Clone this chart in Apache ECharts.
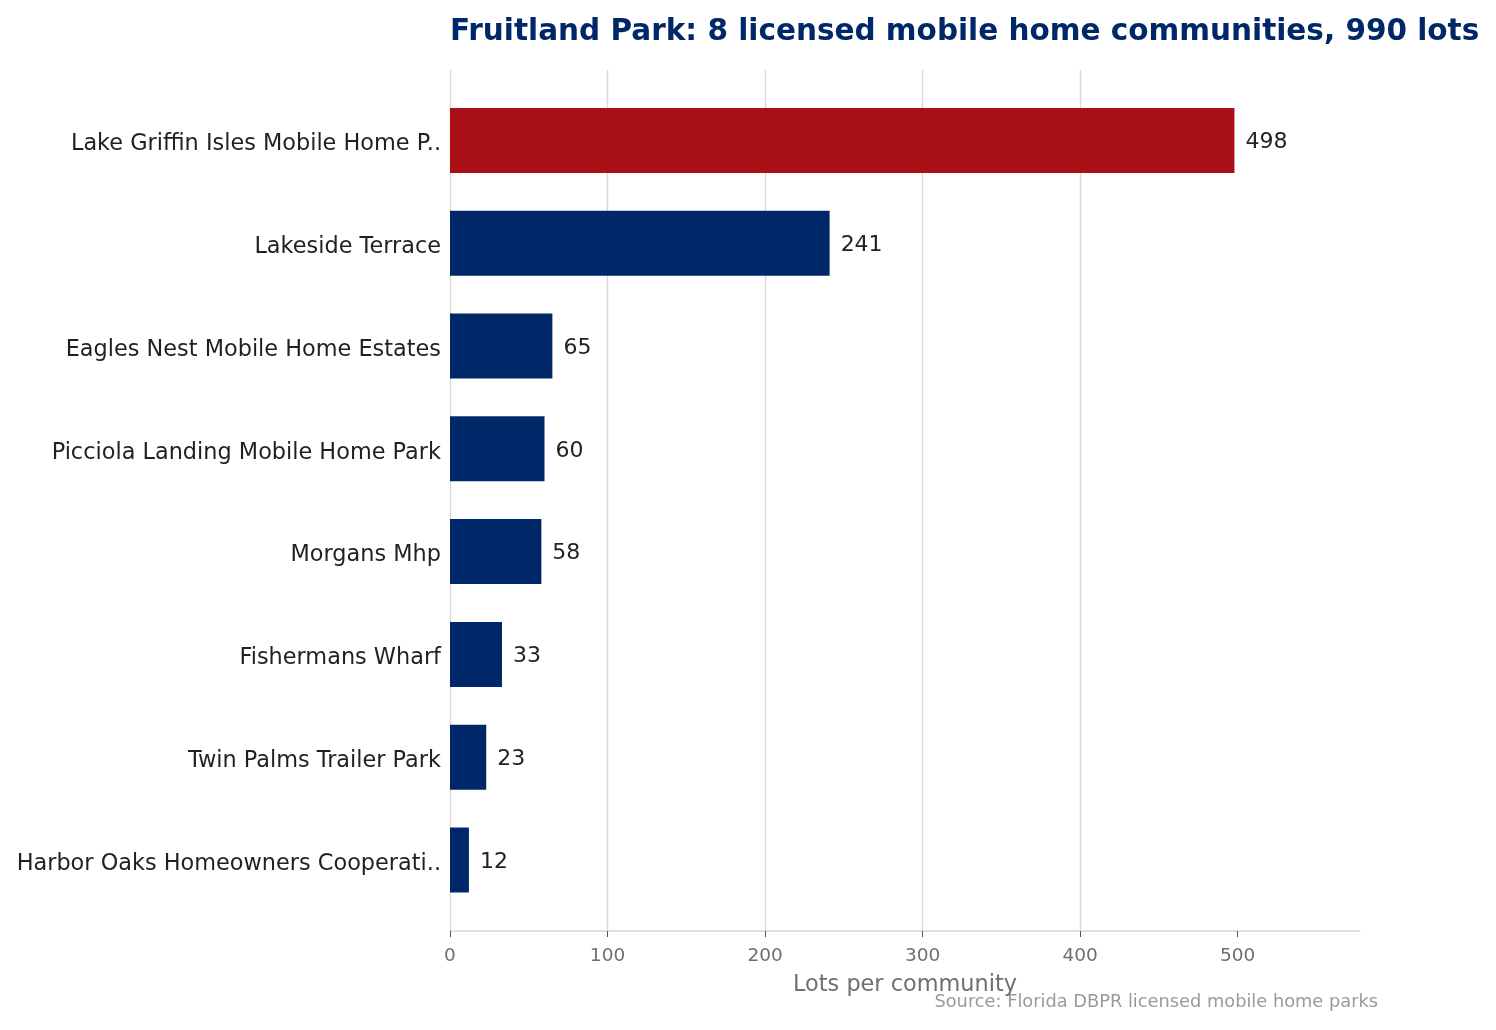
<!DOCTYPE html>
<html>
<head>
<meta charset="utf-8">
<script src="https://cdn.jsdelivr.net/npm/echarts@6/dist/echarts.min.js"></script>
<style>
  html, body { margin: 0; padding: 0; background: #fff; }
  #chart { width: 1496px; height: 1030px; }
</style>
</head>
<body>
<div id="chart"></div>
<script>
// community names, top to bottom
const communities = [
  'Lake Griffin Isles Mobile Home P..',
  'Lakeside Terrace',
  'Eagles Nest Mobile Home Estates',
  'Picciola Landing Mobile Home Park',
  'Morgans Mhp',
  'Fishermans Wharf',
  'Twin Palms Trailer Park',
  'Harbor Oaks Homeowners Cooperati..'
];
const lots = [498, 241, 65, 60, 58, 33, 23, 12];
const xTicks = [0, 100, 200, 300, 400, 500];

const NAVY = '#002868';
const RED = '#a81016';
const FONT = 'DejaVu Sans';

const chart = echarts.init(document.getElementById('chart'));

const xMax = 577.7;

const option = {
  animation: false,
  textStyle: { fontFamily: FONT },
  title: {
    text: 'Fruitland Park: 8 licensed mobile home communities, 990 lots',
    left: 445,
    top: 12,
    textStyle: { fontFamily: FONT, fontSize: 29.5, fontWeight: 'bold', color: NAVY }
  },
  grid: [
    // frame grid: gridlines, bottom axis
    { left: 450, right: 136, top: 70, bottom: 99 },
    // bars grid, inset so bands line up with the reference
    { left: 450, right: 136, top: 89, bottom: 118.6 }
  ],
  xAxis: [
    {
      gridIndex: 0,
      type: 'value',
      min: 0,
      max: xMax,
      interval: 100,
      name: 'Lots per community',
      nameLocation: 'middle',
      nameGap: 43,
      nameTextStyle: { fontFamily: FONT, fontSize: 22.4, color: '#6b7070' },
      axisLine: { show: true, lineStyle: { color: '#d9d6cc', width: 1.5 } },
      axisTick: { show: true, length: 6, customValues: xTicks, lineStyle: { color: '#555' } },
      axisLabel: {
        margin: 16,
        fontFamily: FONT,
        fontSize: 18.5,
        color: '#6b7070',
        customValues: xTicks
      },
      splitLine: { show: true, showMaxLine: false, lineStyle: { color: '#d9d8d2', width: 1.4 } }
    },
    {
      gridIndex: 1,
      type: 'value',
      min: 0,
      max: xMax,
      show: false
    }
  ],
  yAxis: [
    {
      gridIndex: 0,
      type: 'value',
      show: false
    },
    {
      gridIndex: 1,
      type: 'category',
      data: communities,
      inverse: true,
      axisLine: { show: false },
      axisTick: { show: false },
      axisLabel: {
        margin: 9,
        formatter: v => '{n|' + v + '}',
        rich: {
          n: { fontFamily: FONT, fontSize: 22.4, color: '#1f2020', padding: [8, 0, 0, 0] }
        }
      }
    }
  ],
  series: [
    {
      type: 'bar',
      xAxisIndex: 1,
      yAxisIndex: 1,
      barWidth: 65,
      data: lots.map((v, i) => ({
        value: v,
        itemStyle: { color: i === 0 ? RED : NAVY }
      })),
      label: {
        show: true,
        position: 'right',
        distance: 11,
        offset: [0, 2],
        fontFamily: FONT,
        fontSize: 22,
        color: '#222'
      }
    }
  ],
  graphic: [
    {
      type: 'text',
      right: 118,
      top: 993,
      style: {
        text: 'Source: Florida DBPR licensed mobile home parks',
        fontFamily: FONT,
        fontSize: 17.8,
        fill: '#9a9a9a'
      }
    }
  ]
};

chart.setOption(option);
</script>
</body>
</html>
